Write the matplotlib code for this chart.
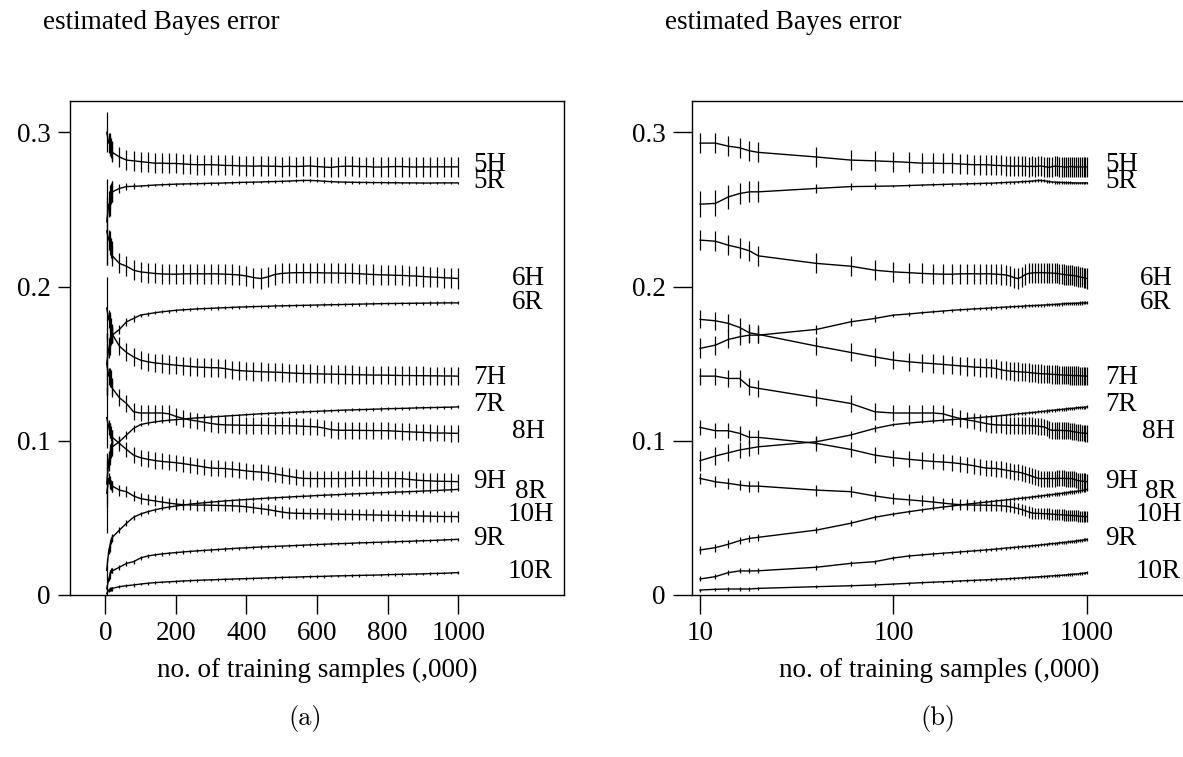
import matplotlib
matplotlib.use("Agg")
import matplotlib.pyplot as plt
from matplotlib.ticker import FixedLocator, NullLocator

plt.rcParams['font.family'] = ['Liberation Serif', 'DejaVu Serif']
plt.rcParams['font.size'] = 19.5

# training samples (,000); first point only shows in the linear panel
SAMPLES = [4, 10, 12, 14, 16, 18, 20, 40, 60, 80, 100,
           120, 140, 160, 180, 200, 220, 240, 260, 280, 300,
           320, 340, 360, 380, 400, 420, 440, 460, 480, 500,
           520, 540, 560, 580, 600, 620, 640, 660, 680, 700,
           720, 740, 760, 780, 800, 820, 840, 860, 880, 900,
           920, 940, 960, 980, 1000]

E_5H = [0.300, 0.293, 0.293, 0.291, 0.290, 0.288, 0.287, 0.284, 0.282, 0.2815, 0.281,
        0.2805, 0.2800, 0.2800, 0.2798, 0.2798, 0.2795, 0.2792, 0.2790, 0.2790, 0.2790,
        0.2788, 0.2785, 0.2785, 0.2782, 0.2782, 0.2780, 0.2782, 0.2780, 0.2780, 0.2778,
        0.2780, 0.2778, 0.2780, 0.2782, 0.2778, 0.2775, 0.2772, 0.2778, 0.2780, 0.2780,
        0.2778, 0.2778, 0.2775, 0.2775, 0.2776, 0.2778, 0.2778, 0.2776, 0.2775, 0.2776,
        0.2776, 0.2776, 0.2776, 0.2776, 0.2776]
E_5R = [0.242, 0.2534, 0.2539, 0.2581, 0.2603, 0.2614, 0.2614, 0.2636, 0.2648, 0.2650, 0.2652,
        0.2655, 0.2658, 0.2660, 0.2662, 0.2664, 0.2665, 0.2666, 0.2667, 0.2668, 0.2670,
        0.2670, 0.2672, 0.2673, 0.2675, 0.2676, 0.2677, 0.2678, 0.2680, 0.2681, 0.2682,
        0.2684, 0.2686, 0.2688, 0.2688, 0.2686, 0.2683, 0.2680, 0.2678, 0.2677, 0.2676,
        0.2675, 0.2675, 0.2674, 0.2674, 0.2673, 0.2673, 0.2672, 0.2672, 0.2672, 0.2671,
        0.2671, 0.2672, 0.2672, 0.2672, 0.2672]
E_6H = [0.236, 0.2301, 0.2294, 0.2268, 0.2251, 0.2232, 0.2199, 0.2150, 0.2132, 0.2106, 0.2095,
        0.2090, 0.2085, 0.2082, 0.2080, 0.2080, 0.2082, 0.2083, 0.2083, 0.2082, 0.2083,
        0.2082, 0.2080, 0.2078, 0.2075, 0.2068, 0.2058, 0.2052, 0.2062, 0.2078, 0.2085,
        0.2088, 0.2090, 0.2090, 0.2090, 0.2090, 0.2088, 0.2088, 0.2087, 0.2086, 0.2085,
        0.2083, 0.2080, 0.2078, 0.2076, 0.2075, 0.2073, 0.2072, 0.2070, 0.2068, 0.2065,
        0.2062, 0.2060, 0.2057, 0.2055, 0.2052]
E_6R = [0.150, 0.1599, 0.1620, 0.1657, 0.1674, 0.1685, 0.1685, 0.1722, 0.1771, 0.1793, 0.1815,
        0.1822, 0.1830, 0.1836, 0.1841, 0.1846, 0.1849, 0.1852, 0.1855, 0.1857, 0.1859,
        0.1861, 0.1863, 0.1865, 0.1867, 0.1868, 0.1870, 0.1871, 0.1872, 0.1874, 0.1875,
        0.1876, 0.1877, 0.1878, 0.1879, 0.1880, 0.1881, 0.1882, 0.1883, 0.1884, 0.1885,
        0.1886, 0.1887, 0.1888, 0.1889, 0.1890, 0.1890, 0.1891, 0.1891, 0.1892, 0.1892,
        0.1893, 0.1893, 0.1894, 0.1894, 0.1894]
E_7H = [0.186, 0.1787, 0.1778, 0.1761, 0.1735, 0.1700, 0.1690, 0.1614, 0.1573, 0.1544, 0.1523,
        0.1512, 0.1505, 0.1500, 0.1495, 0.1490, 0.1486, 0.1482, 0.1478, 0.1476, 0.1474,
        0.1473, 0.1468, 0.1460, 0.1455, 0.1452, 0.1450, 0.1448, 0.1446, 0.1445, 0.1443,
        0.1440, 0.1438, 0.1436, 0.1435, 0.1434, 0.1433, 0.1432, 0.1431, 0.1430, 0.1429,
        0.1428, 0.1427, 0.1426, 0.1426, 0.1425, 0.1424, 0.1423, 0.1423, 0.1422, 0.1422,
        0.1421, 0.1421, 0.1420, 0.1420, 0.1419]
E_7R = [0.072, 0.0871, 0.0901, 0.0922, 0.0940, 0.0951, 0.0961, 0.0994, 0.1037, 0.1080, 0.1105,
        0.1115, 0.1122, 0.1128, 0.1133, 0.1137, 0.1141, 0.1145, 0.1148, 0.1151, 0.1154,
        0.1157, 0.1160, 0.1163, 0.1166, 0.1169, 0.1172, 0.1175, 0.1177, 0.1179, 0.1181,
        0.1183, 0.1185, 0.1187, 0.1189, 0.1191, 0.1193, 0.1195, 0.1197, 0.1199, 0.1200,
        0.1202, 0.1203, 0.1205, 0.1206, 0.1208, 0.1209, 0.1210, 0.1211, 0.1213, 0.1214,
        0.1215, 0.1216, 0.1217, 0.1218, 0.1220]
E_8H = [0.150, 0.1419, 0.1419, 0.1404, 0.1404, 0.1350, 0.1340, 0.1279, 0.1242, 0.1188, 0.1180,
        0.1180, 0.1180, 0.1180, 0.1175, 0.1158, 0.1145, 0.1135, 0.1128, 0.1120, 0.1112,
        0.1106, 0.1103, 0.1102, 0.1101, 0.1100, 0.1100, 0.1100, 0.1099, 0.1098, 0.1098,
        0.1097, 0.1096, 0.1094, 0.1092, 0.1090, 0.1082, 0.1072, 0.1068, 0.1068, 0.1068,
        0.1067, 0.1067, 0.1066, 0.1066, 0.1065, 0.1063, 0.1060, 0.1058, 0.1056, 0.1054,
        0.1052, 0.1050, 0.1050, 0.1049, 0.1048]
E_8R = [0.016, 0.0292, 0.0307, 0.0329, 0.0352, 0.0367, 0.0374, 0.0421, 0.0465, 0.0504, 0.0525,
        0.0540, 0.0552, 0.0562, 0.0570, 0.0577, 0.0583, 0.0589, 0.0594, 0.0598, 0.0602,
        0.0606, 0.0610, 0.0613, 0.0616, 0.0619, 0.0622, 0.0625, 0.0628, 0.0630, 0.0633,
        0.0635, 0.0638, 0.0640, 0.0642, 0.0645, 0.0647, 0.0649, 0.0651, 0.0653, 0.0655,
        0.0657, 0.0659, 0.0661, 0.0663, 0.0665, 0.0667, 0.0668, 0.0670, 0.0672, 0.0674,
        0.0676, 0.0678, 0.0680, 0.0682, 0.0685]
E_9H = [0.115, 0.1087, 0.1065, 0.1065, 0.1048, 0.1022, 0.1022, 0.0983, 0.0944, 0.0907, 0.0890,
        0.0880, 0.0872, 0.0866, 0.0862, 0.0858, 0.0852, 0.0845, 0.0838, 0.0830, 0.0823,
        0.0821, 0.0820, 0.0815, 0.0810, 0.0805, 0.0800, 0.0797, 0.0792, 0.0785, 0.0778,
        0.0770, 0.0762, 0.0756, 0.0755, 0.0755, 0.0755, 0.0755, 0.0755, 0.0755, 0.0756,
        0.0756, 0.0756, 0.0756, 0.0755, 0.0755, 0.0755, 0.0754, 0.0750, 0.0745, 0.0742,
        0.0740, 0.0738, 0.0737, 0.0736, 0.0735]
E_9R = [0.004, 0.0104, 0.0119, 0.0145, 0.0156, 0.0156, 0.0157, 0.0180, 0.0205, 0.0216, 0.0240,
        0.0253, 0.0260, 0.0266, 0.0271, 0.0275, 0.0279, 0.0283, 0.0286, 0.0289, 0.0292,
        0.0295, 0.0298, 0.0301, 0.0304, 0.0306, 0.0309, 0.0311, 0.0313, 0.0315, 0.0317,
        0.0319, 0.0321, 0.0323, 0.0325, 0.0327, 0.0329, 0.0331, 0.0333, 0.0334, 0.0336,
        0.0338, 0.0339, 0.0341, 0.0342, 0.0344, 0.0345, 0.0347, 0.0348, 0.0350, 0.0352,
        0.0353, 0.0355, 0.0357, 0.0359, 0.0361]
E_10H = [0.066, 0.0756, 0.0734, 0.0724, 0.0713, 0.0706, 0.0706, 0.0680, 0.0670, 0.0642, 0.0625,
         0.0617, 0.0610, 0.0603, 0.0596, 0.0590, 0.0586, 0.0584, 0.0583, 0.0583, 0.0582,
         0.0581, 0.0580, 0.0578, 0.0576, 0.0572, 0.0566, 0.0560, 0.0554, 0.0546, 0.0538,
         0.0532, 0.0530, 0.0529, 0.0528, 0.0527, 0.0526, 0.0525, 0.0524, 0.0523, 0.0522,
         0.0521, 0.0520, 0.0519, 0.0518, 0.0517, 0.0516, 0.0515, 0.0514, 0.0513, 0.0512,
         0.0511, 0.0510, 0.0509, 0.0509, 0.0508]
E_10R = [0.001, 0.0032, 0.0037, 0.0039, 0.0039, 0.0039, 0.0043, 0.0054, 0.0060, 0.0065, 0.0071,
         0.0076, 0.0080, 0.0083, 0.0086, 0.0088, 0.0091, 0.0093, 0.0095, 0.0097, 0.0098,
         0.0100, 0.0102, 0.0103, 0.0105, 0.0106, 0.0108, 0.0109, 0.0111, 0.0112, 0.0114,
         0.0115, 0.0116, 0.0118, 0.0119, 0.0120, 0.0121, 0.0123, 0.0124, 0.0125, 0.0126,
         0.0127, 0.0128, 0.0129, 0.0130, 0.0132, 0.0133, 0.0134, 0.0135, 0.0136, 0.0137,
         0.0139, 0.0140, 0.0141, 0.0143, 0.0145]

LABELS = ['5H', '5R', '6H', '6R', '7H', '7R', '8H', '8R', '9H', '9R', '10H', '10R']
SERIES = [E_5H, E_5R, E_6H, E_6R, E_7H, E_7R, E_8H, E_8R, E_9H, E_9R, E_10H, E_10R]

# half-width of the error bar at the first (4) point
FIRST_ERR = [0.013, 0.028, 0.022, 0.020, 0.020, 0.015, 0.020, 0.008, 0.020, 0.003, 0.026, 0.001]
# half-widths for 10,12,14,16,18,20,40,60,80 then the value kept from 100 on
HEAD_ERR = [
    [0.0065] * 9,
    [0.0086, 0.0084, 0.0076, 0.0070, 0.0068, 0.0068, 0.0027, 0.0025, 0.0020],
    [0.0065] * 9,
    [0.0065, 0.0062, 0.0058, 0.0055, 0.0054, 0.0054, 0.0027, 0.0024, 0.0020],
    [0.0058] * 9,
    [0.0065, 0.0060, 0.0056, 0.0053, 0.0050, 0.0050, 0.0030, 0.0025, 0.0020],
    [0.0055] * 9,
    [0.0026, 0.0026, 0.0025, 0.0024, 0.0024, 0.0024, 0.0020, 0.0019, 0.0017],
    [0.0050] * 9,
    [0.0016, 0.0016, 0.0016, 0.0016, 0.0016, 0.0016, 0.0015, 0.0014, 0.0013],
    [0.0035] * 9,
    [0.0010] * 9,
]
TAIL_ERR = [0.0065, 0.0009, 0.0065, 0.0010, 0.0060, 0.0010, 0.0054, 0.0012, 0.0052, 0.0010, 0.0036, 0.0008]

# label placement (baseline) next to curve ends
LABEL_Y = [0.2746, 0.2636, 0.2010, 0.1854, 0.1371, 0.1196, 0.1015, 0.0632, 0.0691, 0.0321, 0.0477, 0.0107]
LABEL_X_A = [1042, 1042, 1152, 1152, 1042, 1042, 1152, 1160, 1042, 1042, 1141, 1141]
LABEL_X_B = [1245, 1245, 1888, 1888, 1245, 1245, 1936, 2004, 1245, 1245, 1778, 1778]

W, H = 1183, 757
fig = plt.figure(figsize=(W / 100, H / 100), dpi=100)
ax_a = fig.add_axes([70 / W, 162 / H, 494 / W, 494 / H])
ax_b = fig.add_axes([692 / W, 162 / H, 494 / W, 494 / H])

for i, vals in enumerate(SERIES):
    n_tail = len(vals) - 1 - len(HEAD_ERR[i])
    errs = [FIRST_ERR[i]] + HEAD_ERR[i] + [TAIL_ERR[i]] * n_tail
    ax_a.errorbar(SAMPLES, vals, yerr=errs, color='black', lw=1.0,
                  elinewidth=0.9, capsize=0)
    ax_b.errorbar(SAMPLES[1:], vals[1:], yerr=errs[1:], color='black', lw=1.0,
                  elinewidth=0.9, capsize=0)
    ax_a.text(LABEL_X_A[i], LABEL_Y[i], LABELS[i], ha='left', va='baseline')
    ax_b.text(LABEL_X_B[i], LABEL_Y[i], LABELS[i], ha='left', va='baseline')

for ax in (ax_a, ax_b):
    ax.set_ylim(0, 0.3203)
    ax.yaxis.set_major_locator(FixedLocator([0, 0.1, 0.2, 0.3]))
    ax.set_yticklabels(['0', '0.1', '0.2', '0.3'])
    ax.tick_params(direction='out', length=14, width=1, pad=5, top=False, right=False)
    for sp in ax.spines.values():
        sp.set_linewidth(1.0)
    ax.set_xlabel('no. of training samples (,000)', labelpad=8)

# left panel has shorter y ticks
ax_a.tick_params(axis='y', length=9)

ax_a.set_xlim(-100, 1300)
ax_a.xaxis.set_major_locator(FixedLocator([0, 200, 400, 600, 800, 1000]))
ax_a.set_xticklabels(['0', '200', '400', '600', '800', '1000'])

ax_b.set_xscale('log')
ax_b.set_xlim(9.09, 3250)
ax_b.xaxis.set_major_locator(FixedLocator([10, 100, 1000]))
ax_b.xaxis.set_minor_locator(NullLocator())
ax_b.set_xticklabels(['10', '100', '1000'])

fig.text(43 / W, 1 - 29 / H, 'estimated Bayes error', ha='left', va='baseline')
fig.text(665 / W, 1 - 29 / H, 'estimated Bayes error', ha='left', va='baseline')
fig.text(305 / W, 1 - 718 / H, '(a)', family='cmr10', ha='center', va='center', fontsize=19)
fig.text(938 / W, 1 - 718 / H, '(b)', family='cmr10', ha='center', va='center', fontsize=19)

fig.savefig('out.png', dpi=100)
